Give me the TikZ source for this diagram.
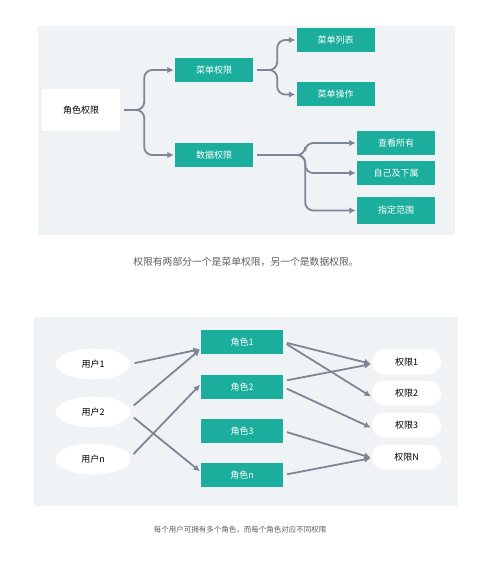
\documentclass[tikz,border=0pt]{standalone}
\usepackage{fontspec}
\newfontfamily\cjk{Noto Sans CJK SC}
\usetikzlibrary{arrows.meta,shapes.geometric}

\definecolor{permgreen}{HTML}{1BAE9C}
\definecolor{panelgray}{HTML}{F0F3F6}
\definecolor{linegray}{HTML}{7B8794}
\definecolor{captgray}{HTML}{5F5F5F}

\tikzset{
    gbox/.style={fill=permgreen, text=white, minimum width=78pt, minimum height=24pt,
        inner sep=0pt, font=\cjk\fontsize{9}{10}\selectfont},
    wbox/.style={fill=white, minimum width=78pt, minimum height=42pt,
        inner sep=0pt, font=\cjk\fontsize{9}{10}\selectfont},
    user/.style={ellipse, fill=white, minimum width=75pt, minimum height=31pt,
        inner sep=0pt, font=\cjk\fontsize{9}{10}\selectfont},
    perm/.style={rectangle, rounded corners=12pt, fill=white, minimum width=69pt,
        minimum height=25pt, inner sep=0pt, font=\cjk\fontsize{9}{10}\selectfont},
    branch/.style={draw=linegray, line width=1.8pt, rounded corners=8pt,
        -{Latex[length=6.5pt,width=6.5pt]}, shorten <=4pt, shorten >=1pt},
    link/.style={draw=linegray, line width=1.8pt,
        -{Latex[length=6.5pt,width=6.5pt]}, shorten <=4pt, shorten >=1pt},
    caption/.style={text=captgray, inner sep=0pt}
}

\begin{document}
\begin{tikzpicture}[x=1pt,y=-1pt]
    \useasboundingbox [fill=white] ( 0, 0 ) rectangle ( 500, 561 );

    % 背景
    \fill [panelgray] ( 38, 26 ) rectangle ( 455, 235 );
    \fill [panelgray] ( 34, 317 ) rectangle ( 458, 506 );

    % 角色权限
    \node [wbox] (root) at ( 81, 110 ) {角色权限};
    \node [gbox] (menu) at ( 214, 70 ) {菜单权限};
    \node [gbox] (data) at ( 214, 155 ) {数据权限};
    \node [gbox] (list) at ( 335.5, 40 ) {菜单列表};
    \node [gbox] (oper) at ( 335.5, 94.5 ) {菜单操作};
    \node [gbox] (all) at ( 396, 143 ) {查看所有};
    \node [gbox] (own) at ( 396, 173 ) {自己及下属};
    \node [gbox, minimum height=27pt] (range) at ( 396, 210.5 ) {指定范围};

    \draw [branch] (root.east) -- ++( 24, 0 ) |- (menu.west);
    \draw [branch] (root.east) -- ++( 24, 0 ) |- (data.west);
    \draw [branch] (menu.east) -- ++( 24, 0 ) |- (list.west);
    \draw [branch] (menu.east) -- ++( 24, 0 ) |- (oper.west);
    \draw [branch] (data.east) -- ++( 52, 0 ) |- (all.west);
    \draw [branch] (data.east) -- ++( 52, 0 ) |- (own.west);
    \draw [branch] (data.east) -- ++( 52, 0 ) |- (range.west);

    \node [caption, font=\cjk\fontsize{9.8}{11}\selectfont] (capa) at ( 246, 262 )
        {权限有两部分一个是菜单权限，另一个是数据权限。};

    % 用户 - 角色 - 权限
    \node [user] (user1) at ( 93, 364 ) {用户1};
    \node [user] (user2) at ( 93, 412 ) {用户2};
    \node [user] (usern) at ( 93, 459 ) {用户n};

    \node [gbox, minimum width=82pt] (role1) at ( 242, 342 ) {角色1};
    \node [gbox, minimum width=82pt] (role2) at ( 242, 387 ) {角色2};
    \node [gbox, minimum width=82pt] (role3) at ( 242, 431 ) {角色3};
    \node [gbox, minimum width=82pt] (rolen) at ( 242, 475 ) {角色n};

    \node [perm] (perm1) at ( 406.5, 362 ) {权限1};
    \node [perm] (perm2) at ( 406.5, 393 ) {权限2};
    \node [perm] (perm3) at ( 406.5, 425 ) {权限3};
    \node [perm] (permN) at ( 406.5, 457 ) {权限N};

    \draw [link] (user1.east) -- ([yshift=-7pt]role1.west);
    \draw [link] ([yshift=4pt]user2.east) -- ([yshift=-7pt]role1.west);
    \draw [link] ([yshift=-3pt]user2.east) -- ([yshift=3pt]rolen.west);
    \draw [link] ([yshift=2pt]usern.east) -- ([yshift=3pt]role2.west);

    \draw [link] (role1.east) -- ([yshift=-2pt]perm1.west);
    \draw [link] (role1.east) -- ([yshift=-4pt]perm2.west);
    \draw [link] ([yshift=6pt]role2.east) -- ([yshift=-2pt]perm1.west);
    \draw [link] (role2.east) -- ([yshift=-3pt]perm3.west);
    \draw [link] (role3.east) -- ([yshift=-1pt]permN.west);
    \draw [link] (rolen.east) -- ([yshift=-1pt]permN.west);

    \node [caption, font=\cjk\fontsize{7.5}{9}\selectfont] (capb) at ( 240, 530 )
        {每个用户可拥有多个角色，而每个角色对应不同权限};
\end{tikzpicture}
\end{document}
